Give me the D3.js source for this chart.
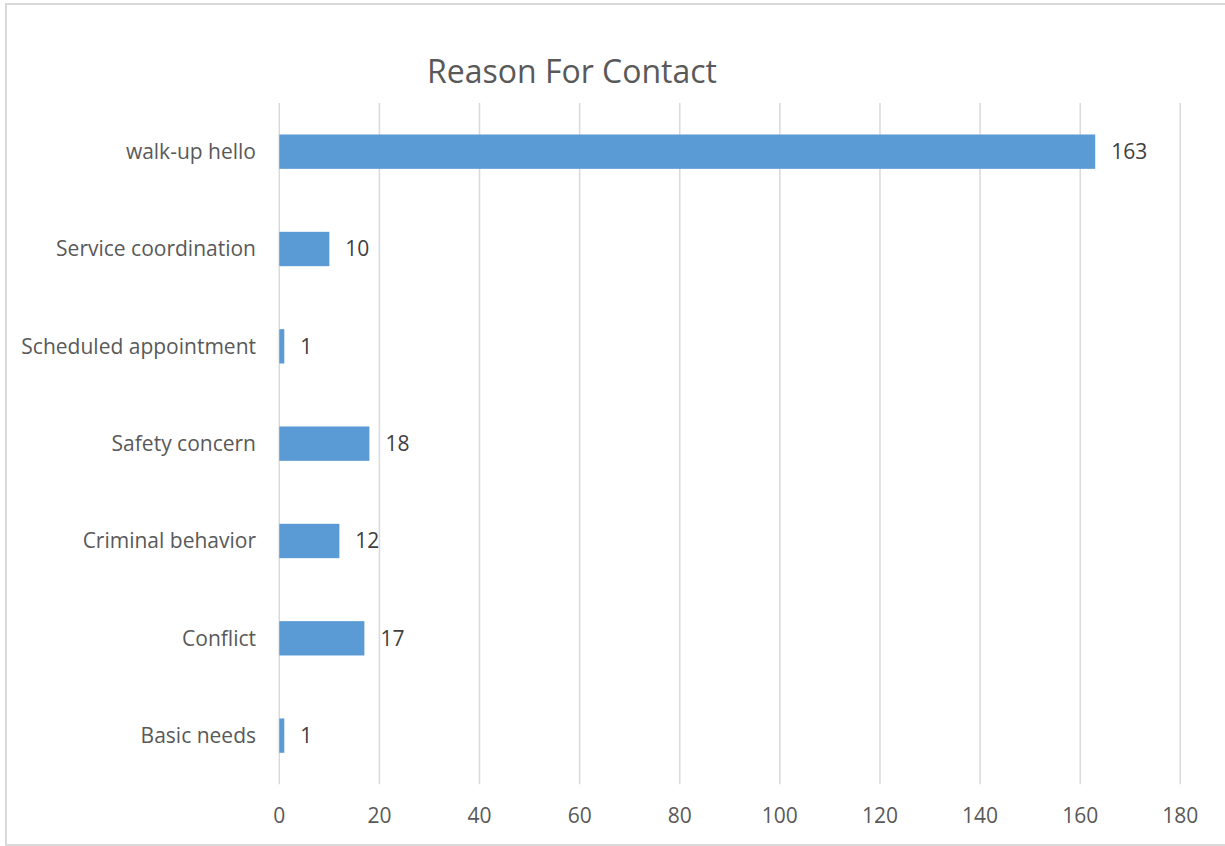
<!DOCTYPE html>
<html>
<head>
<meta charset="utf-8">
<script src="https://cdn.jsdelivr.net/npm/d3@7"></script>
<style>
  body { margin: 0; background: #fff; }
  svg { display: block; font-family: "Open Sans", sans-serif; }
</style>
</head>
<body>
<svg width="1225" height="846"></svg>
<script>
const categories = ["walk-up hello", "Service coordination", "Scheduled appointment", "Safety concern", "Criminal behavior", "Conflict", "Basic needs"];
const counts = [163, 10, 1, 18, 12, 17, 1];
const xTicks = [0, 20, 40, 60, 80, 100, 120, 140, 160, 180];

const svg = d3.select("svg");
const textColor = "#595959";

// chart frame
svg.append("rect")
  .attr("x", 6).attr("y", 4)
  .attr("width", 1240).attr("height", 841)
  .attr("fill", "none")
  .attr("stroke", "#d9d9d9")
  .attr("stroke-width", 2);

const margin = { top: 103, left: 279.3, bottom: 784.3, right: 1180.3 };

const x = d3.scaleLinear()
  .domain([0, 180])
  .range([margin.left, margin.right]);

const y = d3.scaleBand()
  .domain(categories)
  .range([margin.top, margin.bottom])
  .padding(0);

const barH = y.bandwidth() * 0.353;

// gridlines
svg.append("g")
  .selectAll("line")
  .data(xTicks)
  .join("line")
  .attr("x1", d => x(d)).attr("x2", d => x(d))
  .attr("y1", margin.top).attr("y2", margin.bottom)
  .attr("stroke", "#d9d9d9")
  .attr("stroke-width", 1.5);

// x axis labels
svg.append("g")
  .selectAll("text")
  .data(xTicks)
  .join("text")
  .attr("x", d => x(d))
  .attr("y", 816)
  .attr("dy", "0.35em")
  .attr("text-anchor", "middle")
  .attr("font-size", 21)
  .attr("fill", textColor)
  .text(d => d);

// category labels
svg.append("g")
  .selectAll("text")
  .data(categories)
  .join("text")
  .attr("x", 256)
  .attr("y", d => y(d) + y.bandwidth() / 2)
  .attr("dy", "0.35em")
  .attr("text-anchor", "end")
  .attr("font-size", 21)
  .attr("fill", textColor)
  .text(d => d);

// bars
svg.append("g")
  .selectAll("rect")
  .data(categories)
  .join("rect")
  .attr("x", x(0))
  .attr("y", d => y(d) + (y.bandwidth() - barH) / 2)
  .attr("width", (d, i) => x(counts[i]) - x(0))
  .attr("height", barH)
  .attr("fill", "#5b9bd5");

// value labels
svg.append("g")
  .selectAll("text")
  .data(categories)
  .join("text")
  .attr("x", (d, i) => x(counts[i]) + 16)
  .attr("y", d => y(d) + y.bandwidth() / 2)
  .attr("dy", "0.35em")
  .attr("font-size", 21)
  .attr("fill", "#404040")
  .text((d, i) => counts[i]);

// title
svg.append("text")
  .attr("x", 572)
  .attr("y", 72)
  .attr("dy", "0.35em")
  .attr("text-anchor", "middle")
  .attr("font-size", 32)
  .attr("fill", textColor)
  .text("Reason For Contact");
</script>
</body>
</html>
